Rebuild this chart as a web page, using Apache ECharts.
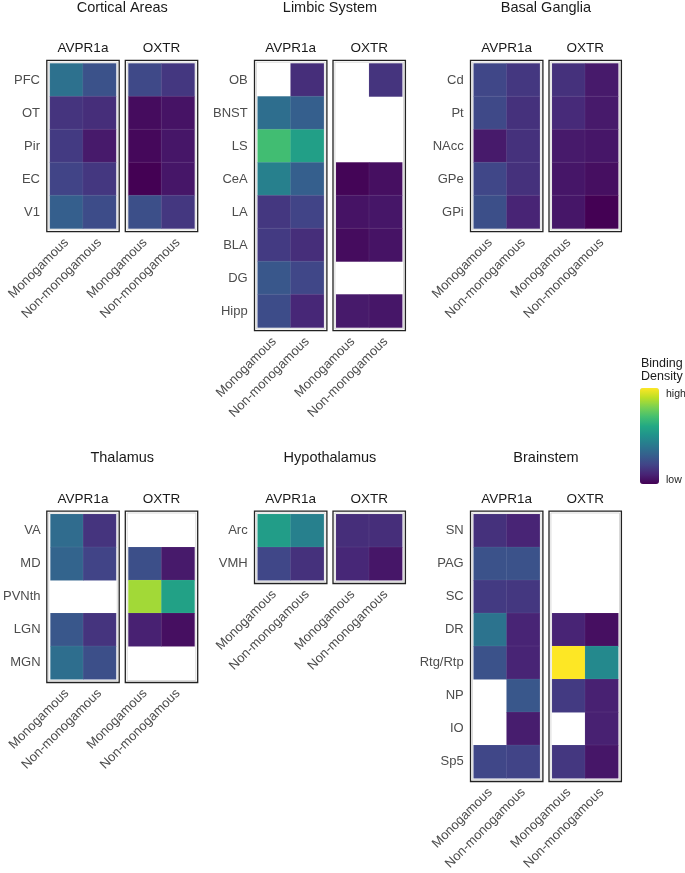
<!DOCTYPE html>
<html>
<head>
<meta charset="utf-8">
<script src="https://cdn.jsdelivr.net/npm/echarts@6/dist/echarts.min.js"></script>
<style>
  html, body { margin: 0; padding: 0; background: #fff; }
  #chart { width: 685px; height: 873px; }
</style>
</head>
<body>
<div id="chart"></div>
<script>
// data ==================================================================
var groups = ['Monogamous', 'Non-monogamous'];
var receptors = ['AVPR1a', 'OXTR'];
var panelTitles = ['Cortical Areas', 'Limbic System', 'Basal Ganglia', 'Thalamus', 'Hypothalamus', 'Brainstem'];

// binding density 0 (low) .. 1 (high), [Monogamous, Non-monogamous], null = not measured
var corticalRegions = ['PFC', 'OT', 'Pir', 'EC', 'V1'];
var corticalAVPR1a = [[0.37, 0.25], [0.15, 0.13], [0.17, 0.07], [0.20, 0.16], [0.30, 0.23]];
var corticalOXTR = [[0.22, 0.16], [0.03, 0.05], [0.02, 0.06], [0.00, 0.06], [0.24, 0.16]];

var limbicRegions = ['OB', 'BNST', 'LS', 'CeA', 'LA', 'BLA', 'DG', 'Hipp'];
var limbicAVPR1a = [[null, 0.13], [0.36, 0.30], [0.69, 0.56], [0.43, 0.30], [0.16, 0.20], [0.17, 0.13], [0.27, 0.21], [0.23, 0.11]];
var limbicOXTR = [[null, 0.15], [null, null], [null, null], [0.01, 0.04], [0.05, 0.06], [0.03, 0.05], [null, null], [0.07, 0.06]];

var basalRegions = ['Cd', 'Pt', 'NAcc', 'GPe', 'GPi'];
var basalAVPR1a = [[0.21, 0.16], [0.22, 0.14], [0.07, 0.14], [0.21, 0.14], [0.24, 0.10]];
var basalOXTR = [[0.14, 0.07], [0.12, 0.07], [0.07, 0.06], [0.06, 0.04], [0.06, 0.00]];

var thalamusRegions = ['VA', 'MD', 'PVNth', 'LGN', 'MGN'];
var thalamusAVPR1a = [[0.35, 0.15], [0.32, 0.20], [null, null], [0.27, 0.15], [0.36, 0.24]];
var thalamusOXTR = [[null, null], [0.24, 0.07], [0.86, 0.57], [0.09, 0.04], [null, null]];

var hypothalamusRegions = ['Arc', 'VMH'];
var hypothalamusAVPR1a = [[0.55, 0.43], [0.21, 0.14]];
var hypothalamusOXTR = [[0.13, 0.13], [0.11, 0.06]];

var brainstemRegions = ['SN', 'PAG', 'SC', 'DR', 'Rtg/Rtp', 'NP', 'IO', 'Sp5'];
var brainstemAVPR1a = [[0.14, 0.10], [0.25, 0.25], [0.17, 0.16], [0.38, 0.10], [0.25, 0.10], [null, 0.27], [null, 0.08], [0.21, 0.20]];
var brainstemOXTR = [[null, null], [null, null], [null, null], [0.10, 0.04], [1.00, 0.47], [0.17, 0.09], [null, 0.09], [0.16, 0.06]];

var panelRegions = [corticalRegions, limbicRegions, basalRegions, thalamusRegions, hypothalamusRegions, brainstemRegions];
var panelValues = [
    [corticalAVPR1a, corticalOXTR],
    [limbicAVPR1a, limbicOXTR],
    [basalAVPR1a, basalOXTR],
    [thalamusAVPR1a, thalamusOXTR],
    [hypothalamusAVPR1a, hypothalamusOXTR],
    [brainstemAVPR1a, brainstemOXTR]
];

// layout ================================================================
var colLeft = [50, 257.7, 473.7];   // left of the AVPR1a tiles
var rowTop = [63.5, 514.3];        // top of the tiles
var cellW = 33;
var cellH = 33;
var facetStep = 78.5;               // AVPR1a tiles -> OXTR tiles
var viridis = ['#440154', '#482475', '#414487', '#355f8d', '#2a788e', '#21918c',
    '#22a884', '#44bf70', '#7ad151', '#bddf26', '#fde725'];

var grids = [], xAxes = [], yAxes = [], series = [], graphics = [];

panelTitles.forEach(function (title, p) {
    var left0 = colLeft[p % 3];
    var top = rowTop[Math.floor(p / 3)];
    var regions = panelRegions[p];
    var h = regions.length * cellH;
    var w = groups.length * cellW;

    graphics.push({
        type: 'text',
        x: left0 + (facetStep + w) / 2, y: top - 56,
        style: { text: title, font: '14.5px "Liberation Sans", Arial, sans-serif', fill: '#1a1a1a', textAlign: 'center', textVerticalAlign: 'middle' }
    });

    receptors.forEach(function (rec, r) {
        var left = left0 + r * facetStep;
        var gi = grids.length;
        grids.push({ left: left, top: top, width: w, height: h });
        xAxes.push({
            type: 'category', gridIndex: gi, data: groups,
            axisLine: { show: false }, axisTick: { show: false }, splitLine: { show: false },
            axisLabel: { rotate: 45, interval: 0, margin: 12, fontSize: 13, color: '#4d4d4d', fontFamily: 'Liberation Sans' }
        });
        yAxes.push({
            type: 'category', gridIndex: gi, data: regions, inverse: true,
            axisLine: { show: false }, axisTick: { show: false }, splitLine: { show: false },
            axisLabel: { show: r === 0, margin: 10, fontSize: 13, color: '#4d4d4d', fontFamily: 'Liberation Sans' }
        });

        var data = [];
        panelValues[p][r].forEach(function (row, yi) {
            row.forEach(function (v, xi) {
                if (v !== null) data.push([xi, yi, v]);
            });
        });
        series.push({
            type: 'heatmap', xAxisIndex: gi, yAxisIndex: gi, data: data,
            itemStyle: { borderColor: 'rgba(255,255,255,0.12)', borderWidth: 0.6 },
            emphasis: { disabled: true }
        });

        // strip label and panel frame
        graphics.push({
            type: 'text',
            x: left + w / 2, y: top - 15.5,
            style: { text: rec, font: '13.5px "Liberation Sans", Arial, sans-serif', fill: '#1a1a1a', textAlign: 'center', textVerticalAlign: 'middle' }
        });
        graphics.push({
            type: 'rect',
            shape: { x: left - 3.2, y: top - 3.2, width: w + 6.4, height: h + 6.4 },
            style: { fill: 'none', stroke: '#222', lineWidth: 1.3 }
        });
        graphics.push({
            type: 'rect',
            shape: { x: left - 1.3, y: top - 1.3, width: w + 2.6, height: h + 2.6 },
            style: { fill: 'none', stroke: '#cfcfcf', lineWidth: 0.8 }
        });
    });
});

// legend texts
graphics.push({ type: 'text', x: 641, y: 364, style: { text: 'Binding', font: '12.5px "Liberation Sans", Arial, sans-serif', fill: '#1a1a1a', textVerticalAlign: 'middle' } });
graphics.push({ type: 'text', x: 641, y: 377, style: { text: 'Density', font: '12.5px "Liberation Sans", Arial, sans-serif', fill: '#1a1a1a', textVerticalAlign: 'middle' } });
graphics.push({ type: 'text', x: 666, y: 394, style: { text: 'high', font: '10.5px "Liberation Sans", Arial, sans-serif', fill: '#1a1a1a', textVerticalAlign: 'middle' } });
graphics.push({ type: 'text', x: 666, y: 480, style: { text: 'low', font: '10.5px "Liberation Sans", Arial, sans-serif', fill: '#1a1a1a', textVerticalAlign: 'middle' } });

var chart = echarts.init(document.getElementById('chart'));
chart.setOption({
    animation: false,
    backgroundColor: '#fff',
    grid: grids,
    xAxis: xAxes,
    yAxis: yAxes,
    visualMap: {
        type: 'continuous', min: 0, max: 1, calculable: false, hoverLink: false,
        seriesIndex: series.map(function (s, i) { return i; }),
        orient: 'vertical', left: 640, top: 388, padding: 0,
        itemWidth: 19, itemHeight: 96,
        inRange: { color: viridis }
    },
    series: series,
    graphic: graphics
});
</script>
</body>
</html>
